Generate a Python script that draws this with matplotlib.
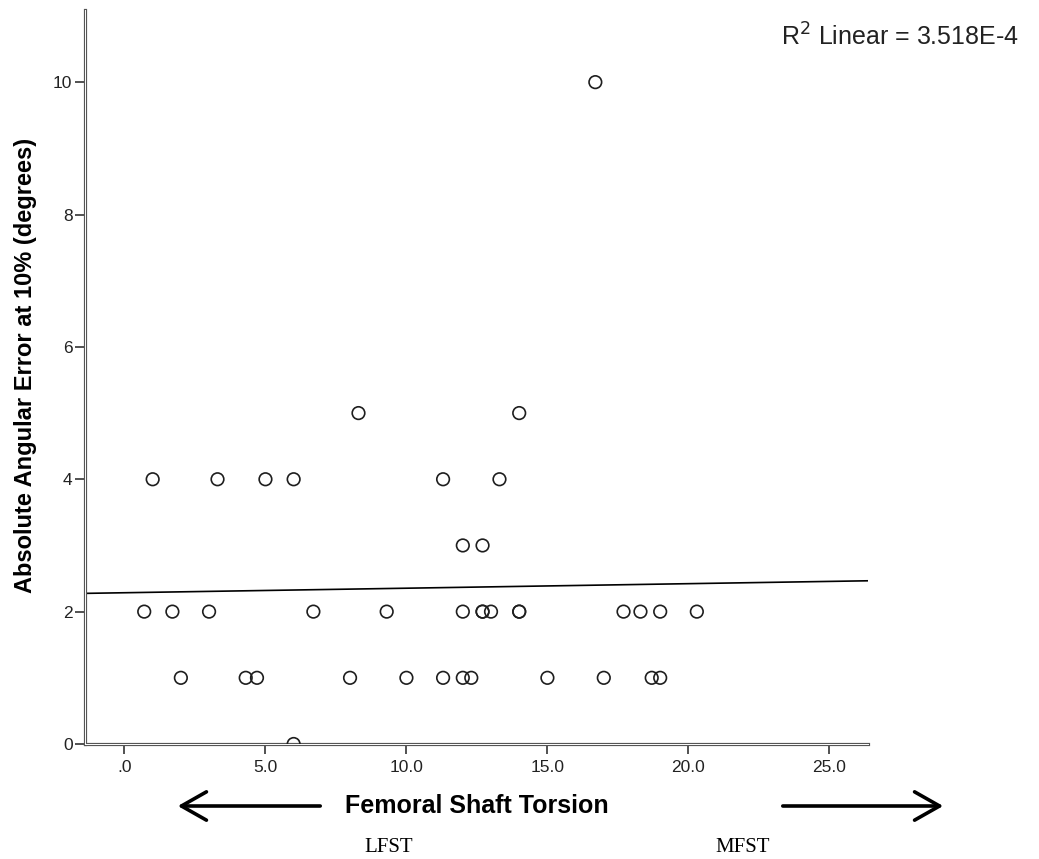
import numpy as np
import matplotlib
matplotlib.use('Agg')
import matplotlib.pyplot as plt
from matplotlib.patches import FancyArrowPatch

# data
torsion = [1.0, 3.3, 5.0, 6.0, 11.3, 13.3,
           8.3, 14.0, 16.7,
           12.0, 12.7,
           0.7, 1.7, 3.0, 6.7, 9.3, 12.0, 12.7, 12.7, 13.0, 14.0, 14.0, 17.7, 18.3, 19.0, 20.3,
           2.0, 4.3, 4.7, 8.0, 10.0, 11.3, 12.0, 12.3, 15.0, 17.0, 18.7, 19.0,
           6.0]
angular_error = [4, 4, 4, 4, 4, 4,
                 5, 5, 10,
                 3, 3,
                 2, 2, 2, 2, 2, 2, 2, 2, 2, 2, 2, 2, 2, 2, 2,
                 1, 1, 1, 1, 1, 1, 1, 1, 1, 1, 1, 1,
                 0]

x_ticks = [0, 5, 10, 15, 20, 25]
x_tick_labels = ['.0', '5.0', '10.0', '15.0', '20.0', '25.0']
y_ticks = [0, 2, 4, 6, 8, 10]
y_tick_labels = ['0', '2', '4', '6', '8', '10']
r2_text = 'R$^2$ Linear = 3.518E-4'

plt.rcParams['font.family'] = ['Liberation Sans', 'DejaVu Sans']

W, H = 1039, 859
fig = plt.figure(figsize=(W / 100, H / 100), dpi=100)
ax = fig.add_axes([85 / W, 1 - 744 / H, 782.7 / W, 734 / H])

ax.set_xlim(-1.40, 26.36)
ax.set_ylim(0, 11.09)

ax.scatter(torsion, angular_error, s=82, facecolors='none', edgecolors='#1e1e1e',
           linewidths=1.2, zorder=3)

# linear fit across the whole x range
slope, intercept = np.polyfit(torsion, angular_error, 1)
xl = np.array(ax.get_xlim())
ax.plot(xl, intercept + slope * xl, color='black', lw=1.2, zorder=2)

# SPSS style double axis lines
for side in ['top', 'right']:
    ax.spines[side].set_visible(False)
for side in ['left', 'bottom']:
    ax.spines[side].set_linewidth(2.3)
    ax.spines[side].set_color('#555555')
ax.plot([0, 0], [0, 1], transform=ax.transAxes, color='white', lw=0.7, clip_on=False, zorder=5)
ax.plot([0, 1], [0, 0], transform=ax.transAxes, color='white', lw=0.7, clip_on=False, zorder=5)

ax.set_xticks(x_ticks)
ax.set_xticklabels(x_tick_labels)
ax.set_yticks(y_ticks)
ax.set_yticklabels(y_tick_labels)
ax.tick_params(direction='out', length=7.5, width=1.2, color='#333333',
               labelsize=12.5, labelcolor='#222222')
ax.tick_params(axis='y', pad=1.5)
ax.tick_params(axis='x', pad=4)

ax.set_ylabel('Absolute Angular Error at 10% (degrees)', fontsize=17, fontweight='bold')
ax.yaxis.set_label_coords(-0.0613, 0.516)
ax.set_xlabel('Femoral Shaft Torsion', fontsize=18, fontweight='bold', va='center')
ax.xaxis.set_label_coords(0.5008, -0.0845)

fig.text(781 / W, 1 - 37 / H, r2_text, fontsize=18, ha='left', va='center', color='#222222')

fig.text(389 / W, 1 - 848 / H, 'LFST', fontsize=15, family='Liberation Serif',
         ha='center', va='center')
fig.text(743 / W, 1 - 848 / H, 'MFST', fontsize=15, family='Liberation Serif',
         ha='center', va='center')

for start, end in [((323, 806), (175, 806)), ((780, 806), (946, 806))]:
    arr = FancyArrowPatch((start[0] / W, 1 - start[1] / H), (end[0] / W, 1 - end[1] / H),
                          transform=fig.transFigure,
                          arrowstyle='->,head_length=1.5,head_width=0.85',
                          lw=2.6, color='black', mutation_scale=12)
    fig.add_artist(arr)

fig.savefig('out.png', dpi=100)
